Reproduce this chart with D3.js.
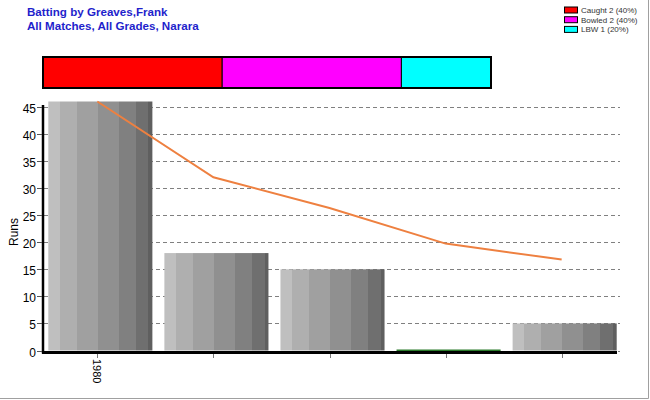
<!DOCTYPE html>
<html>
<head>
<meta charset="utf-8">
<script src="https://cdn.jsdelivr.net/npm/d3@7"></script>
<style>
  html, body { margin: 0; padding: 0; background: #fff; }
  svg { display: block; font-family: "Liberation Sans", Arial, sans-serif; }
</style>
</head>
<body>
<svg id="chart" width="650" height="400"></svg>
<script>
// ---- data ----
const innings = ["1", "2", "3", "4", "5"];
const tickLabels = ["1980", "", "", "", ""];
const runs = [46, 18, 15, 0, 5];
const runningAverage = [46, 32, 26.33, 19.75, 16.8];
const dismissalTypes = ["Caught", "Bowled", "LBW"];
const dismissalCounts = [2, 2, 1];
const dismissalColors = ["#ff0000", "#ff00ff", "#00ffff"];
const yTicks = [0, 5, 10, 15, 20, 25, 30, 35, 40, 45];
const titleLines = ["Batting by Greaves,Frank", "All Matches, All Grades, Narara"];

// ---- layout ----
const svg = d3.select("#chart");
const W = 650, H = 400;

const x = d3.scaleBand().domain(innings).range([42.3, 622.7]).paddingInner(12 / 116.1).paddingOuter(6 / 116.1);
const y = d3.scaleLinear().domain([0, 46]).range([350.5, 101.5]);

// outer frame (right/bottom edge)
svg.append("line").attr("x1", W - 1.5).attr("x2", W - 1.5).attr("y1", 0).attr("y2", H - 1.5)
  .attr("stroke", "#a0a0a0").attr("stroke-width", 1);
svg.append("line").attr("x1", 0).attr("x2", W - 1.5).attr("y1", H - 1.5).attr("y2", H - 1.5)
  .attr("stroke", "#a0a0a0").attr("stroke-width", 1);

// title
svg.append("g").selectAll("text").data(titleLines).join("text")
  .attr("x", 27).attr("y", (d, i) => 16 + i * 14.2)
  .attr("fill", "#1f1fcc").attr("font-weight", "bold").attr("font-size", 11.6)
  .text(d => d);

// legend
const total = d3.sum(dismissalCounts);
const leg = svg.append("g");
dismissalTypes.forEach((t, i) => {
  const yy = 7 + i * 9.7;
  leg.append("rect").attr("x", 564.5).attr("y", yy).attr("width", 13).attr("height", 6)
    .attr("fill", dismissalColors[i]).attr("stroke", "#000").attr("stroke-width", 1);
  leg.append("text").attr("x", 581).attr("y", yy + 6)
    .attr("font-size", 8).attr("fill", "#333")
    .text(`${t} ${dismissalCounts[i]} (${Math.round(dismissalCounts[i] / total * 100)}%)`);
});

// stacked dismissal bar
const sx = d3.scaleLinear().domain([0, total]).range([43, 491]);
const cum = d3.cumsum(dismissalCounts);
const sb = svg.append("g");
dismissalCounts.forEach((c, i) => {
  const start = cum[i] - c;
  sb.append("rect").attr("x", sx(start)).attr("y", 57).attr("width", sx(cum[i]) - sx(start)).attr("height", 31)
    .attr("fill", dismissalColors[i]).attr("stroke", "#000").attr("stroke-width", 1);
});
sb.append("rect").attr("x", sx(0)).attr("y", 57).attr("width", sx(total) - sx(0)).attr("height", 31)
  .attr("fill", "none").attr("stroke", "#000").attr("stroke-width", 2);

// gradient for bars
const stops = [
  [0, 0.1125, "#bfbfbf"], [0.1125, 0.2725, "#afafaf"], [0.2725, 0.4745, "#a0a0a0"],
  [0.4745, 0.68, "#909090"], [0.68, 0.843, "#808080"], [0.843, 0.962, "#6f6f6f"], [0.962, 1, "#5f5f5f"]
];
const grad = svg.append("defs").append("linearGradient").attr("id", "barGrad")
  .attr("x1", 0).attr("x2", 1).attr("y1", 0).attr("y2", 0);
stops.forEach(s => {
  grad.append("stop").attr("offset", s[0]).attr("stop-color", s[2]);
  grad.append("stop").attr("offset", s[1]).attr("stop-color", s[2]);
});

// gridlines
svg.append("g").selectAll("line").data(yTicks).join("line")
  .attr("x1", 44).attr("x2", 620)
  .attr("y1", d => Math.round(y(d)) + 0.5).attr("y2", d => Math.round(y(d)) + 0.5)
  .attr("stroke", "#808080").attr("stroke-width", 1).attr("stroke-dasharray", "4,3");

// bars
svg.append("g").selectAll("rect").data(runs).join("rect")
  .attr("x", (d, i) => x(innings[i])).attr("width", x.bandwidth())
  .attr("y", d => y(d)).attr("height", d => y(0) - y(d))
  .attr("fill", "url(#barGrad)");

// zero-value bars shown as a thin green line
svg.append("g").selectAll("rect").data(runs.map((d, i) => ({ d, i })).filter(o => o.d === 0)).join("rect")
  .attr("x", o => x(innings[o.i])).attr("width", x.bandwidth())
  .attr("y", y(0) - 1).attr("height", 1.5).attr("fill", "#2a7a2a");

// running average line
const px = i => x(innings[i]) + x.bandwidth() / 2 - 3;
svg.append("path").datum(runningAverage)
  .attr("d", d3.line().x((d, i) => px(i)).y(d => y(d)))
  .attr("fill", "none").attr("stroke", "#ee8040").attr("stroke-width", 2);

// y axis
const ya = svg.append("g");
ya.append("line").attr("x1", 43).attr("x2", 43).attr("y1", 105).attr("y2", 353.5)
  .attr("stroke", "#000").attr("stroke-width", 2.5);
ya.selectAll("line.t").data(yTicks).join("line").attr("class", "t")
  .attr("x1", 37).attr("x2", 42).attr("y1", d => Math.round(y(d)) + 0.5).attr("y2", d => Math.round(y(d)) + 0.5)
  .attr("stroke", "#555").attr("stroke-width", 1);
ya.selectAll("text").data(yTicks).join("text")
  .attr("x", 36).attr("y", d => y(d) + 6)
  .attr("text-anchor", "end").attr("font-size", 12).attr("fill", "#000")
  .text(d => d);
svg.append("text").attr("transform", "translate(18,232) rotate(-90)")
  .attr("text-anchor", "middle").attr("font-size", 12).attr("fill", "#000").text("Runs");

// x axis
const xa = svg.append("g");
xa.append("line").attr("x1", 42).attr("x2", 617).attr("y1", 352.5).attr("y2", 352.5)
  .attr("stroke", "#000").attr("stroke-width", 3);
xa.selectAll("line.t").data(innings).join("line").attr("class", "t")
  .attr("x1", (d, i) => Math.round(px(i)) + 0.5).attr("x2", (d, i) => Math.round(px(i)) + 0.5)
  .attr("y1", 354).attr("y2", 358).attr("stroke", "#777").attr("stroke-width", 1);
xa.selectAll("text").data(tickLabels).join("text")
  .attr("transform", (d, i) => `translate(${px(i) - 4},359) rotate(90)`)
  .attr("font-size", 11).attr("fill", "#000")
  .text(d => d);
</script>
</body>
</html>
